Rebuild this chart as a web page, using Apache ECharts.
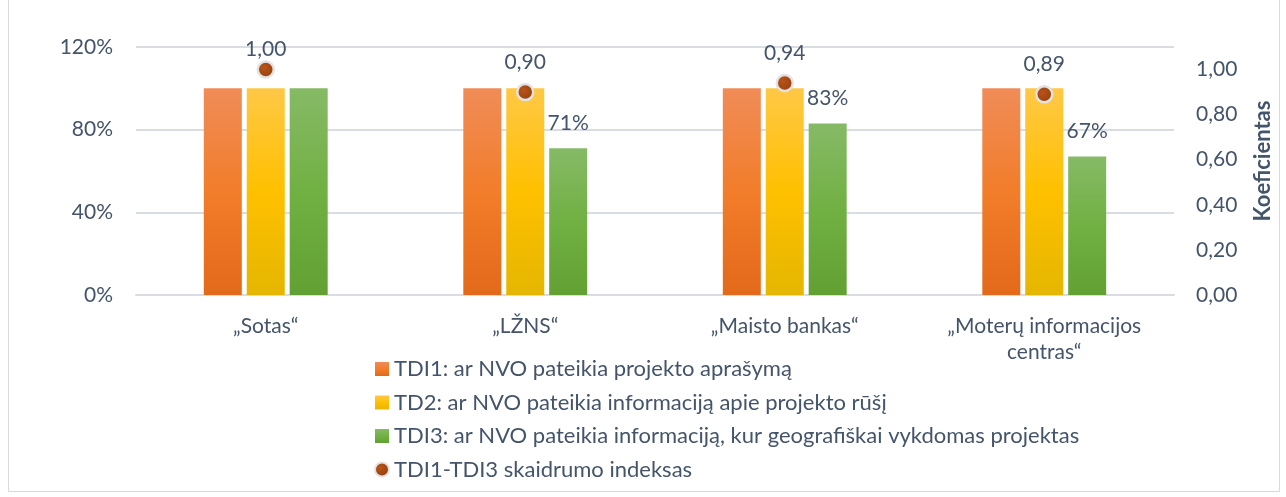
<!DOCTYPE html>
<html>
<head>
<meta charset="utf-8">
<script src="https://cdn.jsdelivr.net/npm/echarts@6/dist/echarts.min.js"></script>
<style>
  html, body { margin: 0; padding: 0; background: #fff; }
  #frame { position: absolute; left: 8px; top: -1px; width: 1270px; height: 491px; border: 1px solid #d9d9d9; }
  #chart { width: 1286px; height: 497px; }
</style>
</head>
<body>
<div id="frame"></div>
<div id="chart"></div>
<script>
var categories = ['„Sotas“', '„LŽNS“', '„Maisto bankas“', '„Moterų informacijos\ncentras“'];
var tdi1 = [100, 100, 100, 100];
var tdi2 = [100, 100, 100, 100];
var tdi3 = [100, 71, 83, 67];
var indexValues = [1.00, 0.90, 0.94, 0.89];
var leftTicks = [0, 40, 80, 120];

var textColor = '#44546a';
var fontFamily = 'Lato, "Open Sans", sans-serif';
var fs = 21;

function grad(top, mid, bottom) {
    return new echarts.graphic.LinearGradient(0, 0, 0, 1, [
        {offset: 0, color: top},
        {offset: 0.5, color: mid},
        {offset: 1, color: bottom}
    ]);
}

// the top label would leave the plot, so Excel pulls it down to the dot
var indexData = indexValues.map(function (v, i) {
    return i === 0 ? {value: v, label: {distance: 1}} : v;
});

var chart = echarts.init(document.getElementById('chart'), null, {renderer: 'canvas'});

var option = {
    animation: false,
    textStyle: {fontFamily: fontFamily, color: textColor},
    grid: {left: 136, right: 112, top: 47, bottom: 202},
    legend: {
        orient: 'vertical',
        left: 369,
        top: 353,
        itemWidth: 14,
        itemHeight: 14,
        itemGap: 11.5,
        textStyle: {fontSize: 22, color: textColor, fontFamily: fontFamily, lineHeight: 22},
        data: [
            {name: 'TDI1: ar NVO pateikia projekto aprašymą', icon: 'rect'},
            {name: 'TD2: ar NVO pateikia informaciją apie projekto rūšį', icon: 'rect'},
            {name: 'TDI3: ar NVO pateikia informaciją, kur geografiškai vykdomas projektas', icon: 'rect'},
            {name: 'TDI1-TDI3 skaidrumo indeksas', icon: 'circle'}
        ]
    },
    xAxis: {
        type: 'category',
        data: categories,
        axisLine: {lineStyle: {color: '#d9dde3', width: 2}},
        axisTick: {show: false},
        axisLabel: {fontSize: fs, color: textColor, margin: 18, lineHeight: 26}
    },
    yAxis: [
        {
            type: 'value',
            min: leftTicks[0],
            max: leftTicks[leftTicks.length - 1],
            interval: 40,
            axisLine: {show: false},
            axisTick: {show: false},
            splitLine: {lineStyle: {color: '#d9dde3', width: 2}},
            axisLabel: {fontSize: fs, color: textColor, margin: 23, formatter: '{value}%'}
        },
        {
            type: 'value',
            min: 0,
            max: 1.1,
            interval: 0.2,
            position: 'right',
            axisLine: {show: false},
            axisTick: {show: false},
            splitLine: {show: false},
            axisLabel: {
                fontSize: fs, color: textColor, margin: 22, showMaxLabel: false,
                formatter: function (v) { return v.toFixed(2).replace('.', ','); }
            },
            name: 'Koeficientas',
            nameLocation: 'middle',
            nameRotate: 90,
            nameGap: 78,
            nameTextStyle: {fontSize: 22, fontWeight: 'bold', color: textColor, padding: [0, 0, 0, 20]}
        }
    ],
    series: [
        {
            name: 'TDI1: ar NVO pateikia projekto aprašymą',
            type: 'bar',
            data: tdi1,
            barWidth: 38,
            barGap: '13%',
            itemStyle: {color: grad('#f08c58', '#f27d2a', '#e3691b')}
        },
        {
            name: 'TD2: ar NVO pateikia informaciją apie projekto rūšį',
            type: 'bar',
            data: tdi2,
            barWidth: 38,
            barGap: '13%',
            itemStyle: {color: grad('#ffc846', '#ffc000', '#e5b600')}
        },
        {
            name: 'TDI3: ar NVO pateikia informaciją, kur geografiškai vykdomas projektas',
            type: 'bar',
            data: tdi3,
            barWidth: 38,
            barGap: '13%',
            itemStyle: {color: grad('#86ba66', '#71b043', '#62a033')},
            label: {
                show: true,
                position: 'top',
                distance: 15,
                fontSize: fs,
                color: textColor,
                formatter: function (p) { return p.value < 100 ? p.value + '%' : ''; }
            }
        },
        {
            name: 'TDI1-TDI3 skaidrumo indeksas',
            type: 'line',
            yAxisIndex: 1,
            data: indexData,
            symbol: 'circle',
            symbolSize: 16,
            lineStyle: {opacity: 0, width: 0},
            itemStyle: {
                color: new echarts.graphic.RadialGradient(0.4, 0.4, 0.6, [
                    {offset: 0, color: '#b8531a'},
                    {offset: 1, color: '#96400c'}
                ]),
                borderColor: '#e2e2e2',
                borderWidth: 2.5
            },
            label: {
                show: true,
                position: 'top',
                distance: 10,
                fontSize: fs,
                color: textColor,
                formatter: function (p) { return p.value.toFixed(2).replace('.', ','); }
            },
            z: 5
        }
    ]
};

chart.setOption(option);
</script>
</body>
</html>
